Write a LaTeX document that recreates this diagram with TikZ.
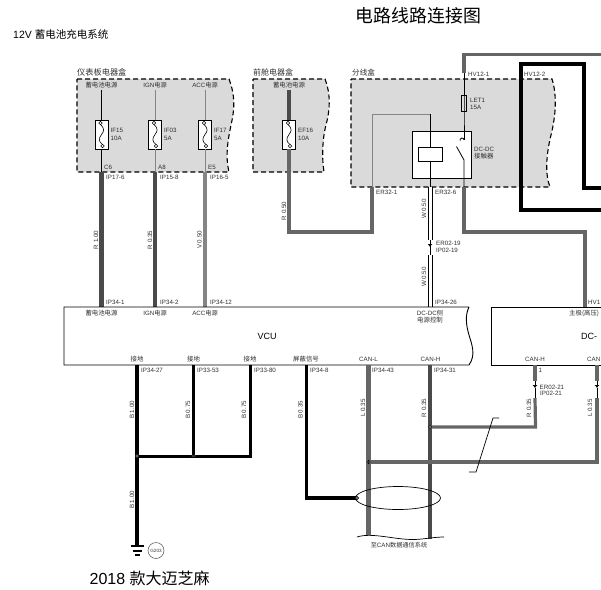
\documentclass[tikz,border=0pt]{standalone}
\usepackage{fontspec}
\setmainfont{Liberation Sans}
\newfontfamily\cjk{Noto Sans CJK SC}
\usetikzlibrary{arrows.meta,shapes.geometric}

\definecolor{panelgray}{HTML}{DADADA}
\definecolor{wiredark}{HTML}{4A4A4A}
\definecolor{wiremid}{HTML}{666666}
\definecolor{wirelight}{HTML}{858585}
\definecolor{inktext}{HTML}{303030}

% Fuse symbol inside a fuse node
\newcommand{\fusemark}[1]{
\draw[line width=0.6,shift={(#1.center)}] (-1,-10) .. controls (4,-5) and (2,-3) .. (0,0) .. controls (-3,4) and (-3,7) .. (1,10);
\draw[line width=0.6,fill=white,shift={(#1.center)}] (-1,-11.5) circle (1.8);
\draw[line width=0.6,fill=white,shift={(#1.center)}] (1,11.5) circle (1.8);
}

\begin{document}
\begin{tikzpicture}[x=1pt,y=-1pt,every node/.style={inner sep=0pt,text=inktext}]

% Define block styles
\tikzset{
panel/.style={fill=panelgray,draw=black,line width=1.1,dash pattern=on 5pt off 3pt},
unit/.style={draw=black,line width=0.9,fill=white},
fuse/.style={rectangle,draw=black,line width=0.8,fill=white,minimum width=13pt,minimum height=29pt},
junction/.style={circle,draw=black,line width=0.6,fill=white,minimum size=3.6pt},
lab/.style={font=\fontsize{6.2}{7}\selectfont},
labl/.style={lab,anchor=west},
zh/.style={font=\cjk\fontsize{6.4}{7}\selectfont},
side/.style={lab,rotate=90},
title/.style={font=\cjk\fontsize{#1}{#1}\selectfont,text=black},
wirethin/.style={draw=black,line width=0.8},
wiregray/.style={draw=wirelight,line width=0.9},
wireR/.style={draw=wiredark,line width=4.6},
wireS/.style={draw=wiredark,line width=4},
wireM/.style={draw=wiredark!85!white,line width=3.8},
wireV/.style={draw=wirelight,line width=4.3},
wireL/.style={draw=wiremid,line width=4.6},
wireB/.style={draw=black,line width=#1},
wireW/.style={draw=black,line width=1,double=white,double distance=3pt}
}

\useasboundingbox (0,0) rectangle (601,589);
\clip (0,0) rectangle (601,589);

% titles
\node[title=17.9,anchor=west] (maintitle) at (355.5,15.5) {电路线路连接图};
\node[font=\fontsize{10.5}{11}\selectfont,text=black,anchor=west] (systitle) at (13,34) {12V {\cjk 蓄电池充电系统}};
\node[font=\fontsize{16}{17}\selectfont,text=black,anchor=west] (cartitle) at (89.5,578) {2018 {\cjk 款大迈芝麻}};

% gray boxes
\draw[panel] (77,79) -- (229,79) .. controls (235,95) and (235,108) .. (231,125) .. controls (228,140) and (225,155) .. (229,172) -- (77,172) -- cycle;
\draw[panel] (253,79) -- (325,79) .. controls (331,95) and (330,110) .. (326,125) .. controls (322,140) and (322,160) .. (324,172) -- (253,172) -- cycle;
\draw[panel] (351,79) -- (552,79) .. controls (557,95) and (556,115) .. (551,135) .. controls (546,155) and (545,175) .. (550,187) -- (351,187) -- cycle;

% fuses and relay
\node[fuse] (fuseA) at (101.5,134.5) {};
\node[fuse] (fuseB) at (155,134.5) {};
\node[fuse] (fuseC) at (205,134.5) {};
\node[fuse] (fuseD) at (289,134.5) {};
\node[rectangle,draw=black,line width=0.7,minimum width=5pt,minimum height=16pt] (fuseE) at (464,103) {};
\node[rectangle,draw=black,line width=0.9,fill=white,minimum width=59pt,minimum height=47pt] (relay) at (441.5,154.5) {};

% pins
\coordinate (srcA) at (101.5,90);
\coordinate (srcB) at (155,90);
\coordinate (srcC) at (205,90);
\coordinate (srcD) at (289,90);
\coordinate (outA) at (101.5,172);
\coordinate (outB) at (155,172);
\coordinate (outC) at (205,172);
\coordinate (vcuA) at (101.5,307);
\coordinate (vcuB) at (155,307);
\coordinate (vcuC) at (205,307);
\coordinate (vcuD) at (430,307);
\coordinate (erA) at (372,187);
\coordinate (erB) at (430,187);
\coordinate (erC) at (464,187);
\coordinate (bendA) at (289,232);
\coordinate (bendB) at (372,232);
\coordinate (bendC) at (372,114);
\coordinate (bendD) at (430,114);
\coordinate (bendE) at (464,232);
\coordinate (bendF) at (585,232);
\coordinate (dcTop) at (585,307);
\coordinate (hvA) at (464,73);
\coordinate (hvB) at (464,54.5);
\coordinate (hvC) at (601,54.5);
\coordinate (hvD) at (601,188);
\coordinate (hvE) at (584,188);
\coordinate (hvF) at (584,64);
\coordinate (hvG) at (521,64);
\coordinate (hvH) at (521,210);
\coordinate (hvI) at (601,210);
\coordinate (swTop) at (464,140);
\coordinate (swHinge) at (464,160);
\coordinate (swTip) at (456.5,146.5);
\coordinate (conA) at (430,240);
\coordinate (conB) at (430,247);
\coordinate (conC) at (430,255);

% wires from the fuse boxes
\draw[wirethin] (srcA) -- (fuseA.north);
\draw[wirethin] (fuseA.south) -- (outA);
\draw[wireR] (outA) -- (vcuA);
\draw[wiregray] (srcB) -- (fuseB.north);
\draw[wiregray] (fuseB.south) -- (outB);
\draw[wireS] (outB) -- (vcuB);
\draw[wiregray] (srcC) -- (fuseC.north);
\draw[wiregray] (fuseC.south) -- (outC);
\draw[wireV] (outC) -- (vcuC);
\draw[wireS] (srcD) -- (fuseD.north);
\draw[draw=wiremid,line width=3.8] (fuseD.south) -- (bendA) -- (bendB) -- (erA);
\draw[wiregray] (erA) -- (bendC) -- (bendD);

% contactor
\draw[wirethin] (bendD) -- (erB);
\node[rectangle,draw=black,line width=0.9,fill=white,minimum width=24pt,minimum height=14pt] (coil) at (430,154) {};
\draw[wirethin] (hvA) -- (fuseE.north);
\draw[wirethin] (fuseE.north) -- (fuseE.south) -- (swTop);
\draw[wirethin] (swTop) arc (0:-200:2);
\draw[wirethin] (swTip) -- (swHinge) -- (erC);
\draw[wireM] (erC) -- (bendE) -- (bendF) -- (dcTop);
\draw[wireW] (erB) -- (conA);
\draw[wirethin] (conA) -- (conC);
\draw[wirethin,-{Latex[length=3pt,width=5pt]}] (conA) -- (conB);
\draw[wireW] (conC) -- (vcuD);

% high voltage wires
\draw[wireM,line width=3.6] (hvA) -- (hvB) -- (hvC);
\draw[wireB=3.8] (hvD) -- (hvE) -- (hvF) -- (hvG) -- (hvH) -- (hvI);

\fusemark{fuseA}
\fusemark{fuseB}
\fusemark{fuseC}
\fusemark{fuseD}

% VCU and DC-DC
\draw[unit] (469,307) -- (64,307) -- (64,365) -- (469,365) .. controls (476,355) and (472,345) .. (469,335) .. controls (466,325) and (465,315) .. (469,307);
\draw[unit] (605,307) -- (491,307) -- (491,365) -- (605,365);

% wires under VCU
\coordinate (pinA) at (137,365);
\coordinate (pinB) at (193.5,365);
\coordinate (pinC) at (250,365);
\coordinate (pinD) at (306.5,365);
\coordinate (pinE) at (368.5,365);
\coordinate (pinF) at (430,365);
\coordinate (cornerA) at (250,456);
\coordinate (cornerB) at (306.5,498);
\coordinate (earth) at (137,546);
\coordinate (endL) at (368.5,535);
\coordinate (endH) at (430,539);
\coordinate (tieA) at (137,456);
\coordinate (tieB) at (193.5,456);
\coordinate (tieH) at (430,427);
\coordinate (tieL) at (368.5,462);
\coordinate (tieS) at (357,498);
\draw[wireB=4] (pinA) -- (earth);
\draw[wireB=3.2] (pinB) -- (tieB);
\draw[wireB=3] (pinC) -- (cornerA) -- (tieA);
\draw[wireB=3.6] (pinD) -- (cornerB) -- (tieS);
\draw[wireL] (pinE) -- (endL);
\draw[wireS] (pinF) -- (endH);

% CAN wires to DC-DC
\coordinate (dcH) at (535,365);
\coordinate (dcL) at (597,365);
\coordinate (dcHa) at (535,381);
\coordinate (dcHb) at (535,388);
\coordinate (dcHc) at (535,398);
\coordinate (dcLa) at (597,381);
\coordinate (dcLb) at (597,388);
\coordinate (dcLc) at (597,398);
\coordinate (cornerC) at (535.5,427);
\coordinate (cornerD) at (597,462);
\draw[draw=wiremid,line width=3.6] (dcH) -- (dcHa);
\draw[draw=wiremid,line width=3.2] (dcHc) -- (cornerC) -- (tieH);
\draw[draw=wiremid,line width=3.6] (dcL) -- (dcLa);
\draw[draw=wiremid,line width=3.2] (dcLc) -- (cornerD) -- (tieL);
\draw[wirethin] (dcHb) -- (dcHc);
\draw[wirethin,-{Latex[length=3pt,width=5pt]}] (dcHa) -- (dcHb);
\draw[wirethin] (dcLb) -- (dcLc);
\draw[wirethin,-{Latex[length=3pt,width=5pt]}] (dcLa) -- (dcLb);

% shield ring and joints on top of the wires
\node[ellipse,draw=black,line width=0.7,minimum width=85pt,minimum height=23pt] (twist) at (398,498) {};
\node[junction] (jointA) at (tieA) {};
\node[junction] (jointB) at (tieB) {};
\node[junction] (jointH) at (tieH) {};
\node[junction] (jointL) at (tieL) {};
\node[junction] (jointS) at (tieS) {};
\foreach \j in {jointA,jointB,jointH,jointL,jointS} {\fill[black] (\j.center) circle (0.8);}

% twisted pair mark and end of CAN wires
\coordinate (markA) at (469,472);
\coordinate (markB) at (476,472);
\coordinate (markC) at (493,418);
\coordinate (markD) at (499,418);
\draw[line width=0.7] (markA) -- (markB) -- (markC) -- (markD);
\draw[line width=0.7] (357,537) .. controls (372,532) and (395,540) .. (415,539.5) .. controls (425,539) and (435,537) .. (444,537);

% ground
\coordinate (earthB) at (137,551);
\coordinate (earthC) at (137,555);
\draw[line width=1.3] ([xshift=-6.5pt]earth) -- ([xshift=6.5pt]earth);
\draw[line width=1.3] ([xshift=-4.5pt]earthB) -- ([xshift=4.5pt]earthB);
\draw[line width=1.3] ([xshift=-2.5pt]earthC) -- ([xshift=2.5pt]earthC);
\node[circle,draw=black!70,line width=0.5,minimum size=16pt,font=\fontsize{4.6}{5}\selectfont] (gnd) at (156,550.5) {G203};

% box labels
\node[zh,font=\cjk\fontsize{8.2}{9}\selectfont,anchor=west] (boxA) at (77,72.5) {仪表板电器盒};
\node[zh,font=\cjk\fontsize{8}{9}\selectfont,anchor=west] (boxB) at (253,72.5) {前舱电器盒};
\node[zh,font=\cjk\fontsize{7.6}{9}\selectfont,anchor=west] (boxC) at (352,72.5) {分线盒};
\node[zh] (srcAtext) at (101.5,85.5) {蓄电池电源};
\node[lab] (srcBtext) at (155,85.5) {IGN{\cjk 电源}};
\node[lab] (srcCtext) at (205,85.5) {ACC{\cjk 电源}};
\node[zh] (srcDtext) at (289,85.5) {蓄电池电源};

% fuse labels
\node[labl] (fA) at (110.5,130) {IF15};
\node[labl] (fAb) at (110.5,138.5) {10A};
\node[labl] (fB) at (164,130) {IF03};
\node[labl] (fBb) at (164,138.5) {5A};
\node[labl] (fC) at (214,130) {IF17};
\node[labl] (fCb) at (214,138.5) {5A};
\node[labl] (fD) at (298,130.5) {EF16};
\node[labl] (fDb) at (298,138.5) {10A};
\node[labl] (fE) at (470,100) {LET1};
\node[labl] (fEb) at (470,107) {15A};
\node[labl] (rel) at (474,149.5) {DC-DC};
\node[zh,anchor=west] (relb) at (474,156.5) {接触器};

% connector labels
\node[labl] (cA) at (104,167) {C6};
\node[labl] (cB) at (158,167) {A8};
\node[labl] (cC) at (208,167) {E5};
\node[labl] (pA) at (106,177) {IP17-6};
\node[labl] (pB) at (160,177) {IP15-8};
\node[labl] (pC) at (210,177) {IP16-5};
\node[labl] (hA) at (468,74) {HV12-1};
\node[labl] (hB) at (524,74) {HV12-2};
\node[labl] (rA) at (376,192.5) {ER32-1};
\node[labl] (rB) at (435,192.5) {ER32-6};
\node[labl] (tA) at (436,243) {ER02-19};
\node[labl] (tB) at (436,250) {IP02-19};
\node[labl] (uA) at (539.5,387) {ER02-21};
\node[labl] (uB) at (540,393.5) {IP02-21};
\node[labl] (vA) at (106,302.5) {IP34-1};
\node[labl] (vB) at (160,302.5) {IP34-2};
\node[labl] (vC) at (210,302.5) {IP34-12};
\node[labl] (vD) at (435,302.5) {IP34-26};
\node[labl] (hC) at (588,302.5) {HV1};
\node[labl] (wA) at (141,370) {IP34-27};
\node[labl] (wB) at (197,370) {IP33-53};
\node[labl] (wC) at (254,370) {IP33-80};
\node[labl] (wD) at (310,370) {IP34-8};
\node[labl] (wE) at (372,370) {IP34-43};
\node[labl] (wF) at (434,370) {IP34-31};
\node[labl] (wG) at (538.5,370) {1};

% text in VCU and DC-DC
\node[font=\fontsize{9}{10}\selectfont,text=black] (vcu) at (267,336) {VCU};
\node[zh] (iA) at (101.5,313.5) {蓄电池电源};
\node[lab] (iB) at (155,313.5) {IGN{\cjk 电源}};
\node[lab] (iC) at (205,313.5) {ACC{\cjk 电源}};
\node[lab] (iD) at (430,313.5) {DC-DC{\cjk 侧}};
\node[zh] (iE) at (430,320.5) {电源控制};
\node[zh] (gA) at (137,359.5) {接地};
\node[zh] (gB) at (193.5,359.5) {接地};
\node[zh] (gC) at (250,359.5) {接地};
\node[zh] (gD) at (306,359.5) {屏蔽信号};
\node[lab] (gE) at (368.5,359.5) {CAN-L};
\node[lab] (gF) at (430.5,359.5) {CAN-H};
\node[lab] (gG) at (535,359.5) {CAN-H};
\node[lab,anchor=west] (gH) at (587,359.5) {CAN};
\node[zh,anchor=west] (dA) at (569,313) {主极(高压)};
\node[font=\fontsize{9}{10}\selectfont,text=black,anchor=west] (dcdc) at (581,336) {DC-};
\node[lab] (canend) at (399,545) {{\cjk 至}CAN{\cjk 数据通信系统}};

% wire labels
\node[side] (sA) at (96,240) {R 1.00};
\node[side] (sB) at (150,240) {R 0.35};
\node[side] (sC) at (199.5,240) {V 0.50};
\node[side] (sD) at (284,211) {R 0.50};
\node[side] (sE) at (424,209) {W 0.50};
\node[side] (sF) at (424,277) {W 0.50};
\node[side] (sG) at (132,410) {B 1.00};
\node[side] (sH) at (188,410) {B 0.75};
\node[side] (sI) at (244,410) {B 0.75};
\node[side] (sJ) at (300.5,410) {B 0.35};
\node[side] (sK) at (132,500) {B 1.00};
\node[side] (sL) at (363,408) {L 0.35};
\node[side] (sM) at (424,408) {R 0.35};
\node[side] (sN) at (529,408) {R 0.35};
\node[side] (sO) at (590,408) {L 0.35};

\end{tikzpicture}
\end{document}
